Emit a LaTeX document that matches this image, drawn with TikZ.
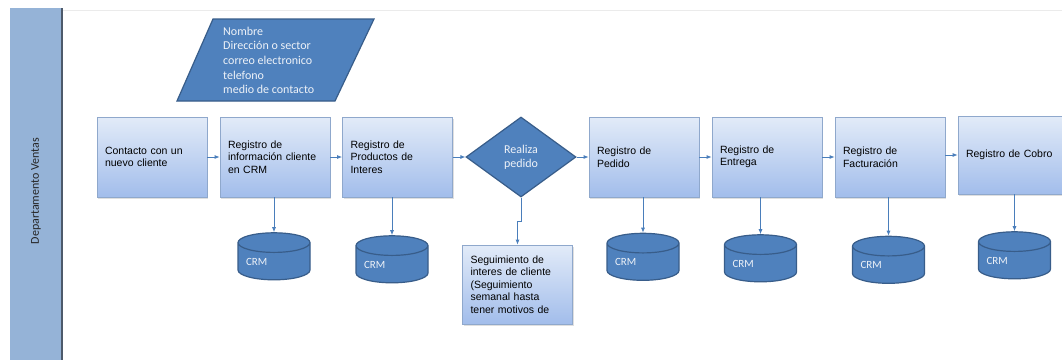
\documentclass[tikz,border=0pt]{standalone}
\usepackage{fontspec}
\setmainfont{Liberation Sans}
\newfontfamily\calibri{Carlito}
\usetikzlibrary{shapes.geometric,arrows.meta,shadows}

\definecolor{lane}{HTML}{95B3D7}
\definecolor{laneedge}{HTML}{4D5A6B}
\definecolor{shapefill}{HTML}{4F81BD}
\definecolor{shapeedge}{HTML}{385D8A}
\definecolor{boxtop}{HTML}{E2EBF8}
\definecolor{boxbot}{HTML}{A2BDEB}
\definecolor{boxedge}{HTML}{8FA8CC}
\definecolor{wire}{HTML}{4A7EBB}
\definecolor{paletext}{HTML}{EEF2F8}

\begin{document}
\begin{tikzpicture}[x=1pt,y=-1pt,
  stepbox/.style={rectangle, draw=boxedge, line width=0.8pt,
    top color=boxtop, bottom color=boxbot,
    minimum width=110pt, minimum height=80pt, inner xsep=8pt,
    text width=94pt, align=left,
    font=\fontsize{10.5}{12.5}\selectfont,
    drop shadow={opacity=0.25, shadow xshift=1pt, shadow yshift=-1.5pt}},
  db/.style={cylinder, shape border rotate=90, aspect=0.35,
    draw=shapeedge, line width=1.2pt, fill=shapefill,
    minimum width=72pt, minimum height=47pt, inner sep=0pt,
    text width=56pt, align=left, text=paletext,
    font=\calibri\fontsize{11}{13}\selectfont},
  decision/.style={diamond, aspect=1.375, draw=shapeedge, line width=1.2pt,
    fill=shapefill, minimum width=110pt, minimum height=80pt, inner sep=0pt,
    text=paletext, align=center, font=\calibri\fontsize{12}{14}\selectfont},
  wire/.style={draw=wire, line width=0.8pt, -{Latex[length=5pt,width=4pt]}}
]
\clip (0,0) rectangle (1062,360);
\fill[white] (0,0) rectangle (1062,360);

% swimlane
\fill[lane] (10,8) rectangle (62,360);
\draw[laneedge, line width=1.5pt] (62,8) -- (62,360);
\draw[black!8, line width=0.6pt] (63,10.5) -- (1062,10.5);
\node[rotate=90, text=black!85, font=\calibri\fontsize{12}{14}\selectfont] (lanelabel) at (36,191) {Departamento Ventas};

% client data input
\draw[draw=shapeedge, line width=1.2pt, fill=shapefill]
  (177,101) -- (335,101) -- (374,19) -- (213,19) -- cycle;
\node[anchor=north west, inner sep=0pt, align=left, text=paletext,
  font=\calibri\fontsize{12}{14.7}\selectfont] (info) at (223,26.5)
  {Nombre\\Dirección o sector\\correo electronico\\telefono\\medio de contacto};

% process steps
\node[stepbox] (b1) at (152,157) {Contacto con un\\nuevo cliente};
\node[stepbox] (b2) at (275,157) {Registro de\\información cliente\\en CRM};
\node[stepbox] (b3) at (397.5,157) {Registro de\\Productos de\\Interes};
\node[decision] (d) at (521,157) {Realiza\\pedido};
\node[stepbox] (b4) at (644,157) {Registro de\\Pedido};
\node[stepbox] (b5) at (767,157) {Registro de\\Entrega};
\node[stepbox] (b6) at (890,157) {Registro de\\Facturación};
\node[stepbox, minimum height=78pt] (b7) at (1013,155) {Registro de Cobro};
\node[stepbox, minimum width=109pt, minimum height=79pt] (seg) at (517.5,284.5)
  {Seguimiento de\\interes de cliente\\(Seguimiento\\semanal hasta\\tener motivos de};

% CRM stores
\node[db] (c1) at (274,261.5) {CRM};
\node[db] (c2) at (392,264.5) {CRM};
\node[db] (c3) at (643,262) {CRM};
\node[db] (c4) at (760.5,263.5) {CRM};
\node[db] (c5) at (888.5,265) {CRM};
\node[db] (c6) at (1014.5,260.5) {CRM};

% flow
\draw[wire] (b1) -- (b2);
\draw[wire] (b2) -- (b3);
\draw[wire] (b3) -- (d);
\draw[wire] (d) -- (b4);
\draw[wire] (b4) -- (b5);
\draw[wire] (b5) -- (b6);
\draw[wire] (b6.east |- b7.west) -- (b7.west);
\draw[wire] (d.south) -- ++(0,24) -| (seg.north);

\draw[wire] (b2.south -| c1.north) -- (c1.north);
\draw[wire] (b3.south -| c2.north) -- (c2.north);
\draw[wire] (b4.south -| c3.north) -- (c3.north);
\draw[wire] (b5.south -| c4.north) -- (c4.north);
\draw[wire] (b6.south -| c5.north) -- (c5.north);
\draw[wire] (b7.south -| c6.north) -- (c6.north);
\end{tikzpicture}
\end{document}
